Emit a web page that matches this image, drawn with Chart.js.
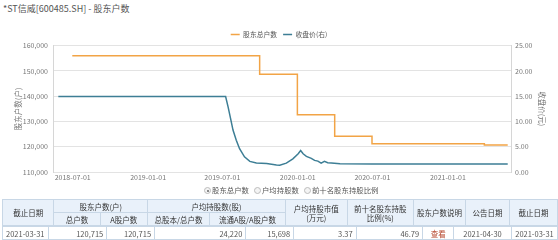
<!DOCTYPE html>
<html><head><meta charset="utf-8">
<script src="https://cdn.jsdelivr.net/npm/chart.js@4/dist/chart.umd.min.js"></script>
<style>
html,body{margin:0;padding:0;background:#fff;width:558px;height:240px;overflow:hidden;font-family:"Noto Sans CJK SC","Noto Sans",sans-serif;}
#title{position:absolute;left:3px;top:2px;font-size:9px;color:#555;white-space:nowrap;}
#wrap{position:absolute;left:0;top:0;width:558px;height:186px;}
#radios{position:absolute;left:199px;top:185px;font-size:7.4px;color:#555;white-space:nowrap;line-height:10px;}
#radios span.r{display:inline-block;width:5px;height:5px;border:1px solid #bbb;border-radius:50%;vertical-align:-1px;margin:0 1px 0 5px;position:relative;background:#f4f4f4;}
#radios span.r.on::after{content:"";position:absolute;left:1.5px;top:1.5px;width:2px;height:2px;border-radius:50%;background:#666;}
table.t{position:absolute;left:2px;border-collapse:collapse;font-size:7.5px;color:#444;table-layout:fixed;}
#thead{top:199px;}
#tbody{top:226px;}
table.t th,table.t td{border:1px solid #c8d7e6;padding:0 3px;line-height:9px;white-space:nowrap;overflow:hidden;}
table.t th{background:#e9f1fa;font-weight:normal;color:#333;text-align:center;height:12px;}
table.t td{text-align:right;color:#555;height:12px;}
table.t td.c{text-align:center;}
table.t td.link{color:#b5452c;text-align:center;}
</style></head>
<body>
<div id="title">*ST信威[600485.SH] - 股东户数</div>
<div id="wrap"><canvas id="c" width="558" height="186"></canvas></div>
<div id="radios"><span class="r on"></span>股东总户数<span class="r"></span>户均持股数<span class="r"></span>前十名股东持股比例</div>
<table id="thead" class="t"></table>
<table id="tbody" class="t"></table>
<script>
// ---- data ----
const holderDates  = ['2018-06-30','2019-09-30','2019-12-31','2020-03-31','2020-06-30','2021-03-31','2021-05-27'];
const holderValues = [156000,148700,132700,124200,121200,120715,120715];

const priceDates  = ['2018-05-27','2019-07-09','2019-07-15','2019-07-21','2019-07-27','2019-08-04','2019-08-12','2019-08-24','2019-09-06','2019-09-22','2019-10-17','2019-11-10','2019-11-18','2019-12-04','2019-12-20','2020-01-02','2020-01-08','2020-01-14','2020-01-22','2020-02-03','2020-02-11','2020-02-19','2020-02-27','2020-03-06','2020-03-14','2020-03-23','2020-04-13','2020-06-30','2020-12-31','2021-05-27'];
const priceValues = [14.95,14.95,12.9,10.6,8.3,6.3,4.6,3.0,2.1,1.8,1.67,1.4,1.33,1.75,2.6,3.6,4.25,3.6,3.1,2.7,2.3,2.15,1.75,2.1,1.85,1.8,1.62,1.6,1.6,1.6];

const xTickDates = ['2018-07-01','2019-01-01','2019-07-01','2020-01-01','2020-07-01','2021-01-01'];
const xRange = ['2018-05-14','2021-06-04'];
const leftRange = [110000,160000,10000];
const rightRange = [0,25,5];

const tableTop = ['截止日期','股东户数(户)','户均持股数(股)','户均持股市值<br>(万元)','前十名股东持股<br>比例(%)','股东户数说明','公告日期','截止日期'];
const tableSub = ['总户数','A股户数','总股本/总户数','流通A股/A股户数'];
const tableRow = ['2021-03-31','120,715','120,715','24,220','15,698','3.37','46.79','查看','2021-04-30','2021-03-31'];
const headWidths = [53,48,49,63,77,63,67,40,45,49];
const bodyWidths = [42,59,48,92,48,63,67,31,58,46];

// ---- table ----
(function(){
  const cg = ws => '<colgroup>' + ws.map(w=>'<col style="width:'+w+'px">').join('') + '</colgroup>';
  let h = cg(headWidths);
  h += '<tr><th rowspan="2">'+tableTop[0]+'</th><th colspan="2">'+tableTop[1]+'</th><th colspan="2">'+tableTop[2]+'</th>';
  for(let i=3;i<tableTop.length;i++) h += '<th rowspan="2">'+tableTop[i]+'</th>';
  h += '</tr><tr>' + tableSub.map(s=>'<th>'+s+'</th>').join('') + '</tr>';
  document.getElementById('thead').innerHTML = h;
  let b = cg(bodyWidths) + '<tr>';
  tableRow.forEach((v,i)=>{
    let cls = '';
    if(i===0||i>=8) cls='c';
    if(i===7) cls='link';
    b += '<td class="'+cls+'">'+v+'</td>';
  });
  b += '</tr>';
  document.getElementById('tbody').innerHTML = b;
})();

// ---- chart ----
const day = s => Date.UTC(+s.slice(0,4), +s.slice(5,7)-1, +s.slice(8,10)) / 864e5;
const fmt = v => new Date(Math.round(v)*864e5).toISOString().slice(0,10);
const FF = '"Noto Sans CJK SC","Noto Sans",sans-serif';

const fixLegend = {id:'fixLegend', beforeLayout(chart){
  const lg = chart.legend;
  if(lg && !lg._fx){ const f = lg.fit; lg.fit = function(){ f.call(this); this.height = 20.7; }; lg._fx = true; }
}};

new Chart(document.getElementById('c'), {
  type:'line',
  data:{datasets:[
    {label:'股东总户数', data: holderDates.map((d,i)=>({x:day(d), y:holderValues[i]})), yAxisID:'y',
     borderColor:'#f2a446', backgroundColor:'#f2a446', borderWidth:1.5, stepped:true, pointRadius:0, fill:false},
    {label:'收盘价(右)', data: priceDates.map((d,i)=>({x:day(d), y:priceValues[i]})), yAxisID:'y1',
     borderColor:'#3d7e95', backgroundColor:'#3d7e95', borderWidth:1.5, pointRadius:0, tension:0, fill:false}
  ]},
  options:{
    responsive:false, animation:false, events:[],
    layout:{padding:{top:25,left:0,right:0,bottom:0}},
    plugins:{
      legend:{display:true, position:'top', align:'center',
        labels:{usePointStyle:true, pointStyle:'line', pointStyleWidth:9, boxHeight:7, padding:6, color:'#555', font:{size:6.8, family:FF}}},
      tooltip:{enabled:false}
    },
    scales:{
      x:{type:'linear', min:day(xRange[0]), max:day(xRange[1]),
        grid:{display:false, drawTicks:false}, border:{display:false},
        ticks:{padding:1, autoSkip:false, maxRotation:0, color:'#777', font:{size:7, family:FF}, callback:v=>fmt(v)},
        afterBuildTicks:ax=>{ ax.ticks = xTickDates.map(d=>({value:day(d)})); },
        afterFit:s=>{ s.height = 14; }},
      y:{position:'left', min:leftRange[0], max:leftRange[1],
        ticks:{stepSize:leftRange[2], padding:5, color:'#777', font:{size:7, family:FF}, callback:v=>v.toLocaleString('en-US')},
        grid:{color:'#e3e3e3', drawTicks:false}, border:{display:true, color:'#d6d6d6'},
        title:{display:true, text:'股东户数(户)', color:'#777', font:{size:7.5, family:FF}, padding:{top:13.5,bottom:0}},
        afterFit:s=>{ s.width = 53; }},
      y1:{position:'right', min:rightRange[0], max:rightRange[1],
        ticks:{stepSize:rightRange[2], padding:4, color:'#777', font:{size:7, family:FF}, callback:v=>v.toFixed(2)},
        grid:{display:false, drawTicks:false}, border:{display:true, color:'#d6d6d6'},
        title:{display:true, text:'收盘价(元)', color:'#777', font:{size:7.5, family:FF}, padding:{top:11.5,bottom:0}},
        afterFit:s=>{ s.width = 47; }}
    }
  },
  plugins:[fixLegend]
});
</script>
</body></html>
